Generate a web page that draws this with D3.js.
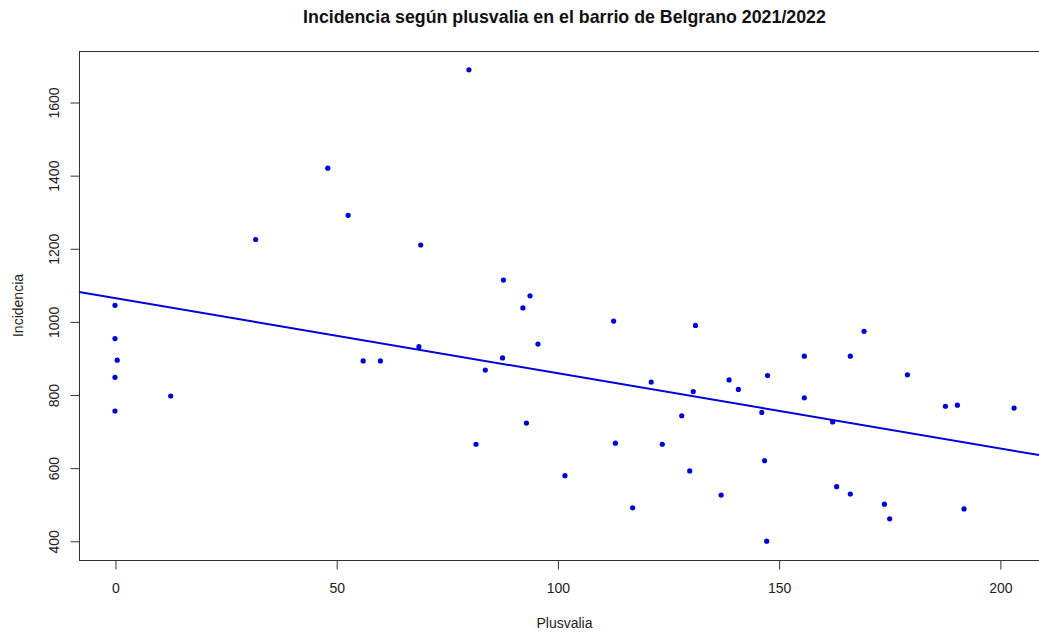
<!DOCTYPE html>
<html>
<head>
<meta charset="utf-8">
<script src="https://cdn.jsdelivr.net/npm/d3@7"></script>
<style>
  html, body { margin: 0; padding: 0; background: #fff; overflow: hidden; }
  svg { display: block; font-family: "Liberation Sans", Arial, sans-serif; }
</style>
</head>
<body>
<svg id="chart" width="1039" height="632"></svg>
<script>
// Data
const plusvalia = [0, 0, 0.5, 0, 0, 12.6, 31.8, 48.1, 52.7, 56.1, 60.0, 69.1, 68.7, 80.0, 81.6, 83.7, 87.6, 87.8, 92.2, 93.8, 93.0, 95.6, 101.7, 112.7, 113.1, 117.0, 121.2, 123.7, 128.1, 129.9, 130.7, 131.2, 137.0, 138.8, 140.9, 146.2, 146.8, 147.3, 147.5, 155.8, 155.8, 162.2, 163.1, 166.2, 166.2, 169.3, 173.9, 175.1, 179.1, 187.7, 190.4, 191.9, 203.2];
const incidencia = [1044, 953, 894, 847, 755, 796, 1224, 1419, 1290, 892, 892, 1209, 931, 1688, 664, 867, 900, 1113, 1037, 1070, 722, 938, 578, 1001, 667, 490, 834, 664, 742, 591, 808, 989, 525, 840, 814, 751, 619, 399, 852, 905, 791, 725, 548, 905, 528, 973, 500, 460, 854, 768, 771, 487, 763];
const xTicks = [0, 50, 100, 150, 200];
const yTicks = [400, 600, 800, 1000, 1200, 1400, 1600];
const fitIntercept = 1063.8;
const fitSlope = -2.056;

const titleText = "Incidencia según plusvalia en el barrio de Belgrano 2021/2022";
const xLabel = "Plusvalia";
const yLabel = "Incidencia";

const svg = d3.select("#chart");
const mLeft = 79, mRight = 1050, mTop = 51, mBottom = 560;

function extend(arr) {
  const mn = d3.min(arr), mx = d3.max(arr), r = mx - mn;
  return [mn - 0.04 * r, mx + 0.04 * r];
}
const x = d3.scaleLinear().domain(extend(plusvalia)).range([mLeft, mRight]);
const y = d3.scaleLinear().domain(extend(incidencia)).range([mBottom, mTop]);

// clip
svg.append("defs").append("clipPath").attr("id", "clip")
  .append("rect").attr("x", mLeft).attr("y", mTop).attr("width", mRight - mLeft).attr("height", mBottom - mTop);

// box
svg.append("rect")
  .attr("x", mLeft + 0.5).attr("y", mTop + 0.5)
  .attr("width", mRight - mLeft).attr("height", mBottom - mTop)
  .attr("fill", "none").attr("stroke", "#333").attr("stroke-width", 1);

// axes
const xAxis = d3.axisBottom(x).tickValues(xTicks).tickSize(9).tickFormat(d3.format("d"));
const gx = svg.append("g").attr("transform", `translate(0.5,${mBottom + 0.5})`).call(xAxis);
gx.select(".domain").remove();
gx.selectAll("line").attr("stroke", "#333");
gx.selectAll("text").attr("fill", "#222").style("font-size", "14px")
  .attr("y", 27).attr("dy", null).attr("dominant-baseline", "central");

const yAxis = d3.axisLeft(y).tickValues(yTicks).tickSize(9).tickFormat(d3.format("d"));
const gy = svg.append("g").attr("transform", `translate(${mLeft + 0.5},0.5)`).call(yAxis);
gy.select(".domain").remove();
gy.selectAll("line").attr("stroke", "#333");
gy.selectAll("text").attr("fill", "#222").style("font-size", "14px")
  .attr("x", null).attr("dy", null)
  .attr("transform", "translate(-26,0) rotate(-90)")
  .attr("text-anchor", "middle").attr("dominant-baseline", "central");

// regression line
const xd = x.domain();
svg.append("line")
  .attr("clip-path", "url(#clip)")
  .attr("x1", x(xd[0])).attr("y1", y(fitIntercept + fitSlope * xd[0]))
  .attr("x2", x(xd[1])).attr("y2", y(fitIntercept + fitSlope * xd[1]))
  .attr("stroke", "#0000d8").attr("stroke-width", 2);

// points
svg.append("g").selectAll("circle")
  .data(plusvalia.map((p, i) => [p, incidencia[i]]))
  .join("circle")
  .attr("cx", d => x(d[0])).attr("cy", d => y(d[1]))
  .attr("r", 2.6).attr("fill", "#0000d8");

// title and labels
const cx = (mLeft + mRight) / 2;
svg.append("text").attr("x", cx).attr("y", 17).attr("text-anchor", "middle")
  .attr("dominant-baseline", "central")
  .style("font-size", "17.8px").style("font-weight", "bold").attr("fill", "#111")
  .text(titleText);
svg.append("text").attr("x", cx).attr("y", 623).attr("text-anchor", "middle")
  .attr("dominant-baseline", "central")
  .style("font-size", "14px").attr("fill", "#222").text(xLabel);
svg.append("text").attr("transform", `translate(18,${(mTop + mBottom) / 2}) rotate(-90)`)
  .attr("text-anchor", "middle").attr("dominant-baseline", "central")
  .style("font-size", "14px").attr("fill", "#222").text(yLabel);
</script>
</body>
</html>
